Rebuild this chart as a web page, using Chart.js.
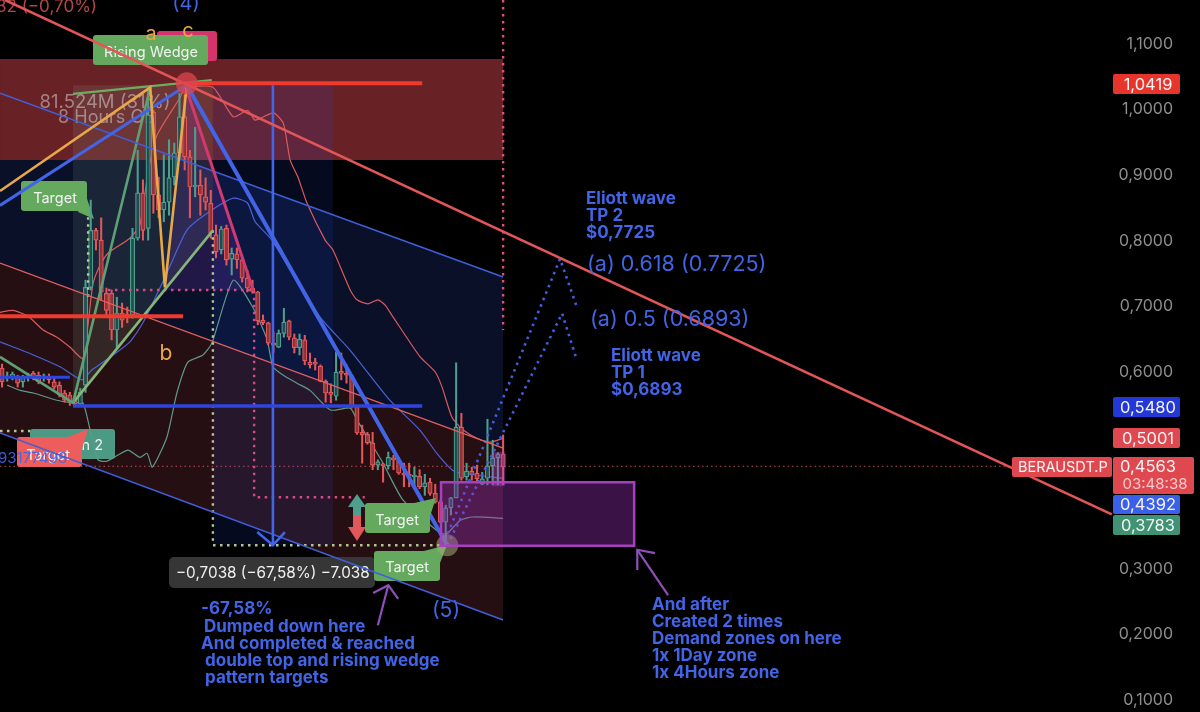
<!DOCTYPE html>
<html>
<head>
<meta charset="utf-8">
<title>BERAUSDT.P</title>
<script src="https://cdn.jsdelivr.net/npm/chart.js@4"></script>
<style>
    html, body { margin: 0; padding: 0; background: #000; }
    #wrap { width: 1200px; height: 712px; }
</style>
</head>
<body>
<div id="wrap"><canvas id="myChart"></canvas></div>
<script>
// candles
const candleOpen = [.606,.591,.591,.592,.585,.591,.598,.595,.591,.592,.585,.580,.568,.565,.560,.551,.580,.729,.816,.801,.720,.720,.664,.690,.688,.687,.804,.873,.819,.996,.870,.847,.859,.897,.934,.989,.928,.882,.885,.867,.857,.809,.786,.819,.772,.780,.771,.743,.728,.722,.679,.675,.644,.638,.659,.678,.652,.637,.649,.615,.614,.609,.586,.568,.563,.600,.598,.594,.547,.508,.505,.492,.458,.458,.457,.469,.466,.444,.443,.440,.441,.425,.432,.415,.402,.371,.393,.408,.516,.440,.449,.446,.429,.438,.457,.469,.475];
const candleHigh = [.612,.600,.600,.595,.595,.598,.601,.600,.597,.597,.591,.585,.572,.569,.563,.575,.740,.862,.819,.835,.728,.725,.714,.705,.699,.819,.938,.893,1.030,.999,.897,.931,.954,.949,1.025,1.022,.938,.973,.908,.896,.877,.824,.822,.824,.789,.789,.778,.755,.740,.723,.687,.676,.661,.664,.697,.679,.658,.658,.656,.629,.621,.611,.588,.582,.630,.629,.611,.595,.548,.519,.508,.508,.466,.461,.478,.473,.470,.461,.461,.455,.451,.444,.438,.429,.405,.397,.409,.614,.537,.461,.455,.458,.447,.528,.496,.477,.504];
const candleLow = [.577,.586,.588,.577,.577,.586,.588,.582,.586,.583,.574,.562,.554,.549,.548,.548,.569,.725,.786,.710,.687,.649,.637,.668,.675,.682,.801,.801,.801,.842,.835,.829,.839,.885,.923,.908,.835,.867,.839,.847,.804,.774,.780,.763,.748,.758,.737,.722,.720,.672,.672,.641,.630,.637,.653,.649,.629,.626,.611,.606,.603,.585,.554,.553,.557,.588,.583,.545,.505,.461,.490,.451,.451,.432,.452,.451,.444,.425,.425,.425,.422,.412,.412,.400,.370,.336,.382,.408,.435,.435,.435,.431,.428,.428,.428,.428,.428];
const candleClose = [.585,.592,.597,.583,.592,.594,.591,.585,.594,.588,.577,.565,.557,.554,.551,.569,.729,.816,.801,.722,.694,.664,.690,.679,.685,.804,.873,.816,.992,.870,.847,.859,.896,.934,.989,.928,.882,.885,.870,.859,.812,.783,.818,.771,.781,.771,.743,.728,.723,.678,.675,.644,.641,.659,.676,.653,.637,.650,.617,.611,.612,.586,.568,.566,.600,.598,.595,.547,.507,.504,.492,.458,.463,.457,.470,.466,.446,.443,.441,.441,.425,.431,.415,.402,.371,.393,.408,.516,.438,.449,.443,.437,.437,.457,.469,.475,.455];

// indicator lines as [bar, price]
const maRed = [[-.38,.691],[2.1,.694],[5,.685],[7.9,.664],[10.5,.653],[13,.638],[15.5,.621],[17.4,.733],[18.8,.763],[20.3,.781],[24.5,.804],[26.4,.824],[28,.905],[29.7,.961],[34.1,1.018],[35.1,1.033],[40.4,1.034],[44.3,.989],[47.1,.999],[48.5,.984],[52,.995],[53.9,.979],[55.2,.923],[56.7,.897],[58.4,.858],[61.9,.801],[63.4,.786],[66.7,.725],[68,.710],[70.1,.704],[72,.710],[73.4,.702],[74.9,.684],[80.1,.623],[83,.600],[84.3,.577],[86.2,.531],[88.3,.512],[91,.499],[93.5,.493],[96,.499]];
const maBlue = [[-.38,.646],[6,.626],[11.1,.608],[15.3,.588],[17.2,.603],[21.3,.626],[24.5,.646],[27,.675],[31.6,.751],[35.4,.816],[39.3,.842],[44.3,.865],[47,.858],[48.5,.829],[51.7,.801],[60.9,.684],[66.7,.633],[74.3,.557],[80.1,.511],[83.3,.476],[86.2,.451],[87.8,.446],[96,.438]];
const maTeal = [[1,.580],[3.5,.572],[6,.568],[10.5,.557],[13.6,.553],[15.5,.553],[16.9,.511],[18.4,.466],[20.1,.464],[24.1,.481],[26.4,.470],[27.8,.476],[28.8,.455],[31.6,.501],[33.5,.568],[35.6,.615],[38.5,.626],[40.2,.644],[44.3,.740],[48.1,.698],[50.8,.649],[51.9,.608],[53.9,.595],[56.5,.583],[59,.572],[62.9,.542],[66.7,.545],[68,.527],[73,.461],[76.8,.405],[84,.354],[85.3,.354],[87.8,.374],[90.2,.379],[96,.377]];

// drawings as [bar, price]
const bigRedLine = [[.57,1.167],[212.6,.383]];
const channelTop = [[-.38,1.025],[96,.745]];
const channelMid = [[-.38,.766],[96,.484]];
const channelLow = [[-.38,.507],[96,.222]];
const redTopLine = [[35.1,1.04],[80.5,1.04]];
const redMidLine = [[-.38,.685],[34.7,.685]];
const blueMidLine = [[13.6,.548],[80.5,.548]];
const blueShortLine = [[-.38,.592],[13,.592]];
const measureLine = [[51.9,1.037],[51.9,.336]];
const measureHead = [[48.9,.356],[51.9,.336],[54.2,.356]];
const dropLine = [[35.4,1.037],[85.3,.336]];
const riseLine = [[-.38,.854],[35.4,1.037]];
const pinkLine = [[35.1,1.037],[48.1,.725]];
const wedgeOrange = [[-.38,.876],[28.4,1.034],[31.2,.729],[35.4,1.037]];
const wedgeGreen = [[-.38,.623],[13.6,.553],[28.4,1.034]];
const wedgeGreen2 = [[13.6,.553],[40.4,.816]];
const wedgeGreenTop = [[13.6,1.024],[40.2,1.045]];
const pinkDots1 = [[96,1.167],[96,.664]];
const pinkDots2 = [[20.3,.725],[48.3,.725],[48.3,.409],[69.5,.409]];
const paleDots1 = [[40.4,.816],[40.4,.336],[85.3,.336]];
const paleDots2 = [[-.38,.510],[5.4,.510]];
const paleDots3 = [[16.5,.836],[16.5,.710]];
const lastPriceLine = [[-.38,.4563],[193.5,.4563]];
const tp2Path = [[84.9,.344],[106.9,.7725],[110,.702]];
const tp1Path = [[85.3,.336],[107.3,.6893],[110,.621]];
const arrowOne = [[72,.214],[74,.275]];
const arrowOneHead = [[71.1,.263],[74,.275],[75.9,.254]];
const arrowTwo = [[127.6,.260],[121.7,.329]];
const arrowTwoHead = [[121.7,.298],[121.7,.329],[125.1,.324]];
const topMarker = [[35.4,1.04]];
const lowMarker = [[85.3,.336]];

// zones as [bar, price] corners
const navyZone = [[-.38,1.025],[96,.745],[96,.484],[-.38,.766]];
const maroonZone = [[-.38,.766],[96,.484],[96,.222],[-.38,.507]];
const redBand = [[-.38,1.077],[96,1.077],[96,.923],[-.38,.923]];
const shadeLeft = [[13.6,1.037],[40.4,1.037],[40.4,.816],[13.6,.553]];
const shadeRight = [[40.4,1.037],[63.4,1.037],[63.4,.336],[40.4,.336]];
const wedgeFill = [[35.1,1.037],[48.1,.725],[31.2,.725]];
const demandZone = [[84.1,.432],[121.1,.432],[121.1,.335],[84.1,.335]];
const lastBarsZone = [[93.9,.478],[96.4,.478],[96.4,.426],[93.9,.426]];

const priceTicks = [.1,.2,.3,.4,.5,.6,.7,.8,.9,1,1.1];

const TEAL = '#4e9f8e';
const RED = '#e2575a';
const BLUE = '#4264e6';
const FONT = 'Inter, "Noto Sans", sans-serif';

function pts(list){
    return list.map(p => ({x: p[0], y: p[1]}));
}

function line(list, color, width, order, extra){
    return Object.assign({
        type: 'line',
        data: pts(list),
        borderColor: color,
        borderWidth: width,
        pointRadius: 0,
        tension: 0,
        fill: false,
        order: order
    }, extra || {});
}

function dots(list, color, width, order){
    return line(list, color, width, order, {borderDash: [2.5, 4.5]});
}

const up = candleOpen.map((o, i) => candleClose[i] >= o);

const datasets = [
    // candles
    {
        type: 'bar',
        grouped: false,
        data: candleOpen.map((o, i) => ({x: i, y: [candleLow[i], candleHigh[i]]})),
        backgroundColor: up.map(u => u ? TEAL : RED),
        borderWidth: 0,
        barThickness: 1.4,
        order: 8
    },
    {
        type: 'bar',
        grouped: false,
        data: candleOpen.map((o, i) => ({x: i, y: [o, candleClose[i]]})),
        backgroundColor: up.map(u => u ? 'rgba(20,50,60,0.75)' : 'rgba(90,30,35,0.6)'),
        borderColor: up.map(u => u ? TEAL : RED),
        borderWidth: 1.2,
        borderSkipped: false,
        barThickness: 4.4,
        minBarLength: 2,
        order: 7
    },
    line(maRed, '#dc5a5e', 1.2, 9, {tension: .2}),
    line(maBlue, '#4a62d8', 1.2, 9, {tension: .2}),
    line(maTeal, '#5f9a88', 1.2, 9, {tension: .2}),
    line(lastPriceLine, 'rgba(226,87,90,0.85)', 1, 10, {borderDash: [1.5, 3]}),
    dots(pinkDots1, '#e0507a', 2.4, 6),
    dots(pinkDots2, '#d24a86', 2.4, 6),
    dots(paleDots1, '#b4c792', 2.4, 6),
    dots(paleDots2, '#b4c792', 2.4, 6),
    dots(paleDots3, '#b4c792', 2.4, 6),
    dots(tp2Path, '#3f5fe0', 2.6, 6),
    dots(tp1Path, '#3f5fe0', 2.6, 6),
    line(channelTop, '#3f5fd8', 1.6, 5),
    line(channelMid, '#e0605f', 1.3, 5),
    line(channelLow, '#3f5fd8', 1.6, 5),
    line(wedgeGreen, '#5f9f75', 2.6, 5),
    line(wedgeGreen2, '#86b57a', 2.6, 5),
    line(wedgeGreenTop, '#6fab60', 2.2, 5),
    line(wedgeOrange, '#e8a84a', 2.6, 4),
    line(riseLine, BLUE, 3, 4),
    line(pinkLine, '#cf3a70', 3, 4),
    line(redMidLine, '#f03a2e', 4, 3),
    line(redTopLine, '#f03a2e', 4, 3),
    line(blueMidLine, '#2f45e0', 3.5, 3),
    line(blueShortLine, '#2f45e0', 3, 3),
    line(measureLine, BLUE, 2.6, 3),
    line(measureHead, BLUE, 2.6, 3),
    line(dropLine, BLUE, 4, 3),
    line(arrowOne, '#8e4fb8', 2.2, 3),
    line(arrowOneHead, '#8e4fb8', 2.2, 3),
    line(arrowTwo, '#8e4fb8', 2.2, 3),
    line(arrowTwoHead, '#8e4fb8', 2.2, 3),
    line(bigRedLine, '#e25558', 2.6, 2),
    line(topMarker, 'transparent', 0, 1, {pointRadius: 11, pointBackgroundColor: 'rgba(222,70,80,0.75)', pointBorderWidth: 0}),
    line(lowMarker, 'transparent', 0, 1, {pointRadius: 11, pointBackgroundColor: 'rgba(160,170,115,0.55)', pointBorderWidth: 0})
];

function poly(chart, list, fill, stroke, strokeWidth){
    const {ctx, scales} = chart;
    ctx.beginPath();
    list.forEach((p, i) => {
        const px = scales.x.getPixelForValue(p[0]);
        const py = scales.y.getPixelForValue(p[1]);
        if (i == 0) ctx.moveTo(px, py); else ctx.lineTo(px, py);
    });
    ctx.closePath();
    ctx.fillStyle = fill;
    ctx.fill();
    if (stroke){
        ctx.strokeStyle = stroke;
        ctx.lineWidth = strokeWidth;
        ctx.stroke();
    }
}

function text(ctx, str, x, y, color, size, weight, align){
    ctx.font = (weight || 400) + ' ' + size + 'px ' + FONT;
    ctx.fillStyle = color;
    ctx.textAlign = align || 'left';
    ctx.textBaseline = 'middle';
    ctx.fillText(str, x, y);
}

function box(ctx, x1, y1, x2, y2, color, radius){
    ctx.beginPath();
    ctx.roundRect(x1, y1, x2 - x1, y2 - y1, radius == null ? 3 : radius);
    ctx.fillStyle = color;
    ctx.fill();
}

function tri(ctx, a, b, c, color){
    ctx.beginPath();
    ctx.moveTo(a[0], a[1]);
    ctx.lineTo(b[0], b[1]);
    ctx.lineTo(c[0], c[1]);
    ctx.closePath();
    ctx.fillStyle = color;
    ctx.fill();
}

function drawLowerLabels(ctx){
    // text that sits under the drawings
    text(ctx, '32 (−0,70%)', -4, 7, '#b5484a', 17);
    text(ctx, '(4)', 186, 4, BLUE, 20, 400, 'center');
    box(ctx, 157, 31, 217, 61, '#d6336c');
    box(ctx, 93, 35, 208, 65, '#65a95f');
    text(ctx, 'Rising Wedge', 151, 53, '#f2f2f2', 14.5, 400, 'center');
    text(ctx, 'a', 151, 34, '#e8a84a', 20, 400, 'center');
    text(ctx, 'c', 188, 31, '#e8a84a', 20, 400, 'center');
    text(ctx, '81.524M (31%)', 105, 102, 'rgba(205,195,195,0.6)', 18.5, 400, 'center');
    text(ctx, '8 Hours OB', 107, 118, 'rgba(205,195,195,0.6)', 18, 400, 'center');
    text(ctx, 'b', 166, 354, '#e8a84a', 21, 400, 'center');
    box(ctx, 21, 181, 87, 211, '#65a95f');
    tri(ctx, [85, 193], [78, 212], [94, 219], '#65a95f');
    text(ctx, 'Target', 55, 199, '#f2f2f2', 14.5, 400, 'center');
    box(ctx, 30, 429, 115, 459, '#4d9a84');
    text(ctx, 'Pattern 2', 72, 446, '#f2f2f2', 14.5, 400, 'center');
    box(ctx, 17, 437, 82, 467, '#ec5d5b');
    tri(ctx, [68, 437], [82, 449], [88, 429], '#ec5d5b');
    text(ctx, 'Target', 48, 456, '#f2f2f2', 14.5, 400, 'center');
    text(ctx, '93177498', -2, 458, 'rgba(66,100,230,0.9)', 15);
    box(ctx, 169, 557, 375, 588, 'rgba(58,58,58,0.93)', 5);
    text(ctx, '−0,7038 (−67,58%) −7.038', 176, 573, '#f0f0f0', 15.3);
    box(ctx, 374, 551, 440, 581, '#65a95f');
    tri(ctx, [420, 552], [440, 563], [447, 545], '#65a95f');
    text(ctx, 'Target', 407, 568, '#f2f2f2', 14.5, 400, 'center');
    text(ctx, '(5)', 446, 611, BLUE, 21, 400, 'center');
}

function drawUpperLabels(ctx){
    // up/down tool and the target tag above the candles
    tri(ctx, [357, 494], [348, 507], [366, 507], TEAL);
    box(ctx, 353, 507, 361, 516, TEAL, 0);
    box(ctx, 353, 516, 361, 527, RED, 0);
    tri(ctx, [357, 541], [348, 527], [366, 527], RED);
    box(ctx, 365, 503, 430, 533, '#65a95f');
    tri(ctx, [410, 504], [430, 516], [436, 498], '#65a95f');
    text(ctx, 'Target', 397, 521, '#f2f2f2', 14.5, 400, 'center');

    // comments
    const notes = [
        ['Eliott wave', 586, 199], ['TP 2', 586, 216], ['$0,7725', 586, 233],
        ['Eliott wave', 611, 356], ['TP 1', 611, 373], ['$0,6893', 611, 390],
        ['-67,58%', 201, 609], ['Dumped down here', 204, 627], ['And completed & reached', 201, 644],
        ['double top and rising wedge', 205, 661], ['pattern targets', 205, 678],
        ['And after', 652, 605], ['Created 2 times', 652, 622], ['Demand zones on here', 652, 639],
        ['1x 1Day zone', 652, 656], ['1x 4Hours zone', 652, 673]
    ];
    for (let n of notes){
        text(ctx, n[0], n[1], n[2], BLUE, 17, 700);
    }
    text(ctx, '(a) 0.618 (0.7725)', 587, 265, BLUE, 21.5);
    text(ctx, '(a) 0.5 (0.6893)', 590, 320, BLUE, 21.5);

    // price scale tags
    const tags = [
        ['1,0419', 74, 94, '#e8352c'],
        ['0,5480', 397, 417, '#2438d8'],
        ['0,5001', 428, 448, '#e0484f'],
        ['0,4392', 495, 514, '#3a5fe8'],
        ['0,3783', 515, 535, '#3f9274']
    ];
    for (let t of tags){
        box(ctx, 1113, t[1], 1180, t[2], t[3], 2);
        text(ctx, t[0], 1148, (t[1] + t[2]) / 2 + 1, '#f4f4f4', 16.5, 400, 'center');
    }
    box(ctx, 1012, 457, 1112, 477, '#e0484f', 2);
    text(ctx, 'BERAUSDT.P', 1018, 468, '#f4f4f4', 14.5);
    box(ctx, 1113, 457, 1194, 494, '#e0484f', 2);
    text(ctx, '0,4563', 1148, 467, '#f4f4f4', 16.5, 400, 'center');
    text(ctx, '03:48:38', 1155, 484, '#f6c9c9', 15, 400, 'center');
}

const zonesPlugin = {
    id: 'zones',
    beforeDatasetsDraw(chart){
        const ctx = chart.ctx;
        ctx.save();
        poly(chart, navyZone, 'rgb(9,16,40)');
        poly(chart, maroonZone, 'rgb(38,15,18)');
        poly(chart, redBand, 'rgb(104,33,36)');
        poly(chart, shadeLeft, 'rgba(150,190,170,0.13)');
        poly(chart, shadeRight, 'rgba(40,80,230,0.13)');
        poly(chart, wedgeFill, 'rgba(130,60,200,0.2)');
        drawLowerLabels(ctx);
        ctx.restore();
    },
    afterDatasetsDraw(chart){
        const ctx = chart.ctx;
        ctx.save();
        poly(chart, demandZone, 'rgba(160,50,190,0.36)', '#a73fbf', 2.5);
        poly(chart, lastBarsZone, 'rgba(190,70,210,0.35)');
        drawUpperLabels(ctx);
        ctx.restore();
    }
};

new Chart(document.getElementById('myChart').getContext('2d'), {
    type: 'bar',
    data: {datasets: datasets},
    plugins: [zonesPlugin],
    options: {
        animation: false,
        responsive: true,
        maintainAspectRatio: false,
        layout: {padding: 0, autoPadding: false},
        plugins: {legend: {display: false}, tooltip: {enabled: false}},
        scales: {
            x: {type: 'linear', display: false, offset: false, min: -.383, max: 229.5, grid: {display: false}},
            y: {
                type: 'linear',
                position: 'right',
                min: .0817,
                max: 1.1671,
                grid: {display: false},
                border: {display: false},
                afterBuildTicks: scale => { scale.ticks = priceTicks.map(v => ({value: v})); },
                ticks: {
                    mirror: true,
                    padding: -27,
                    color: '#8e8e8e',
                    font: {family: FONT, size: 16},
                    callback: v => v.toFixed(4).replace('.', ',')
                }
            }
        }
    }
});
</script>
</body>
</html>
